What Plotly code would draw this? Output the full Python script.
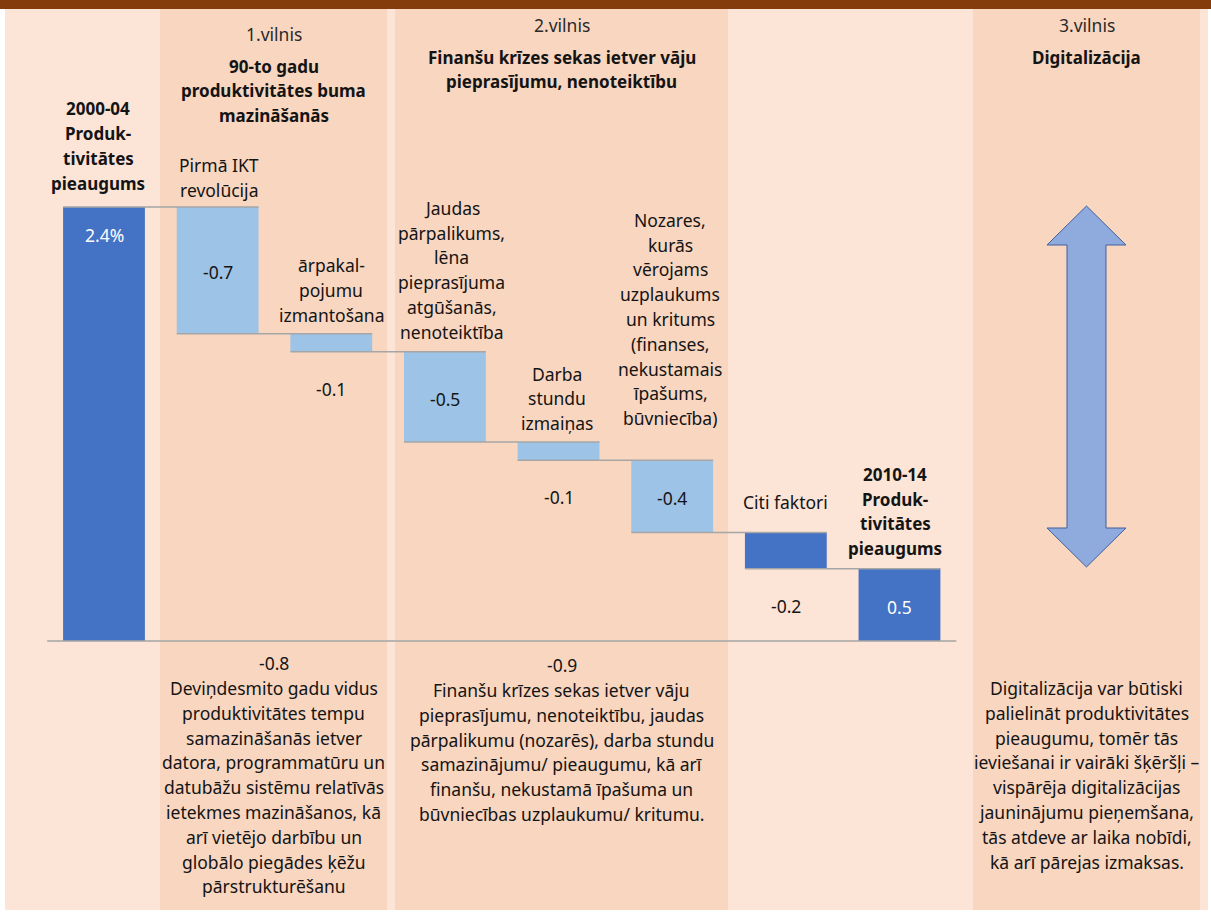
import plotly.graph_objects as go

W, H = 1211, 912
FONT = "Noto Sans"
TEXT = "#141414"
DARK = "#4472C4"
LIGHT = "#9DC3E6"
GRID = "#A6A6A6"
PEACH = "#FCE4D6"
BAND = "#F8D6C0"
BROWN = "#843C0C"

# --- data -------------------------------------------------------------------
categories = [
    "2000-04",
    "Pirmā IKT revolūcija",
    "ārpakalpojumu izmantošana",
    "Jaudas pārpalikums",
    "Darba stundu izmaiņas",
    "Nozares ar uzplaukumu un kritumu",
    "Citi faktori",
    "2010-14",
]
start_level = 2.4
changes = [-0.7, -0.1, -0.5, -0.1, -0.4, -0.2]
value_labels = ["2.4%", "-0.7", "-0.1", "-0.5", "-0.1", "-0.4", "-0.2", "0.5"]
bar_colors = [DARK, LIGHT, LIGHT, LIGHT, LIGHT, LIGHT, DARK, DARK]
label_place = ["top", "mid", "below", "mid", "below", "mid", "below", "mid"]

header_lines = [
    ["2000-04", "Produk-", "tivitātes", "pieaugums"],
    ["Pirmā IKT", "revolūcija"],
    ["ārpakal-", "pojumu", "izmantošana"],
    ["Jaudas", "pārpalikums,", "lēna", "pieprasījuma", "atgūšanās,", "nenoteiktība"],
    ["Darba", "stundu", "izmaiņas"],
    ["Nozares,", "kurās", "vērojams", "uzplaukums", "un kritums", "(finanses,",
     "nekustamais", "īpašums,", "būvniecība)"],
    ["Citi faktori"],
    ["2010-14", "Produk-", "tivitātes", "pieaugums"],
]
header_bold = [True, False, False, False, False, False, False, True]
header_gap = [24, 17, 19, 20, 19, 42, 31, 20]
header_dx = [-6, 1, 0, 7, -2, -2, 0, -4]

wave_titles = ["1.vilnis", "2.vilnis", "3.vilnis"]
wave_heads = [
    ["90-to gadu", "produktivitātes buma", "mazināšanās"],
    ["Finanšu krīzes sekas ietver vāju", "pieprasījumu, nenoteiktību"],
    ["Digitalizācija"],
]
wave_sums = ["-0.8", "-0.9", None]
wave_notes = [
    ["Deviņdesmito gadu vidus", "produktivitātes tempu", "samazināšanās ietver",
     "datora, programmatūru un", "datubāžu sistēmu relatīvās",
     "ietekmes mazināšanos, kā", "arī vietējo darbību un",
     "globālo piegādes ķēžu", "pārstrukturēšanu"],
    ["Finanšu krīzes sekas ietver vāju", "pieprasījumu, nenoteiktību, jaudas",
     "pārpalikumu (nozarēs), darba stundu", "samazinājumu/ pieaugumu, kā arī",
     "finanšu, nekustamā īpašuma un", "būvniecības uzplaukumu/ kritumu."],
    ["Digitalizācija var būtiski", "palielināt produktivitātes",
     "pieaugumu, tomēr tās", "ieviešanai ir vairāki šķēršļi –",
     "vispārēja digitalizācijas", "jauninājumu pieņemšana,",
     "tās atdeve ar laika nobīdi,", "kā arī pārejas izmaksas."],
]

# --- layout helpers ------------------------------------------------------------
BAND_PX = [(160, 387), (395, 728), (973, 1200)]
LINE = 24.8
BAR_W = 0.72
SIZE = 17.5
BOLD_SIZE = 17


def px(xp):
    return xp / W


def py(yp):
    return 1 - yp / H


def stack(fig, lines, x, y, xref, yref, first_shift, bold=False, color=TEXT, xshift=0):
    """Place lines one by one so the line spacing can be controlled."""
    for k, line in enumerate(lines):
        fig.add_annotation(
            x=x, y=y, xref=xref, yref=yref, text=f"<b>{line}</b>" if bold else line,
            showarrow=False, xanchor="center", yanchor="middle",
            yshift=first_shift - k * LINE, xshift=xshift,
            font=dict(family=FONT, size=BOLD_SIZE if bold else SIZE, color=color),
        )


# --- waterfall geometry ----------------------------------------------------------
levels = [start_level]
for c in changes:
    levels.append(levels[-1] + c)
bases = [0.0] + [levels[i + 1] for i in range(len(changes))] + [0.0]
heights = [start_level] + [-c for c in changes] + [levels[-1]]
xs = list(range(len(categories)))

fig = go.Figure()
fig.add_trace(
    go.Bar(
        x=xs, y=heights, base=bases, width=BAR_W,
        marker=dict(color=bar_colors, line=dict(width=0)),
        hoverinfo="skip",
    )
)

cx, cy = [], []
for i in range(len(categories) - 1):
    cx += [i - BAR_W / 2, i + 1 + BAR_W / 2, None]
    cy += [levels[min(i, len(levels) - 1)]] * 2 + [None]
fig.add_trace(
    go.Scatter(x=cx, y=cy, mode="lines", line=dict(color=GRID, width=1.5),
               hoverinfo="skip")
)

# value labels
for i, (lab, place) in enumerate(zip(value_labels, label_place)):
    top = bases[i] + heights[i]
    bottom = bases[i]
    if place == "top":
        y, shift = top, -28
    elif place == "below":
        y, shift = bottom, -37
    else:
        y, shift = (top + bottom) / 2, -2
    white = bar_colors[i] == DARK and place != "below"
    fig.add_annotation(
        x=i, y=y, text=lab, showarrow=False, yshift=shift,
        font=dict(family=FONT, size=SIZE, color="white" if white else TEXT),
    )

# category headers above each bar
for i, lines in enumerate(header_lines):
    top = bases[i] + heights[i]
    n = len(lines)
    stack(fig, lines, i, top, "x", "y", header_gap[i] + (n - 1) * LINE,
          bold=header_bold[i], xshift=header_dx[i])

# --- bands and wave texts -----------------------------------------------------
shapes = [
    dict(type="rect", xref="paper", yref="paper", x0=px(5), x1=px(1208), y0=py(910),
         y1=py(9), fillcolor=PEACH, line_width=0, layer="below"),
    dict(type="rect", xref="paper", yref="paper", x0=0, x1=1, y0=py(9), y1=1,
         fillcolor=BROWN, line_width=0, layer="below"),
    dict(type="line", xref="x", yref="y", x0=-0.5, x1=len(categories) - 0.5, y0=0, y1=0,
         line=dict(color=GRID, width=1.5), layer="above"),
]
for x0, x1 in BAND_PX:
    shapes.append(dict(type="rect", xref="paper", yref="paper", x0=px(x0), x1=px(x1),
                       y0=py(910), y1=py(9), fillcolor=BAND, line_width=0,
                       layer="below"))

title_y = [34, 25, 25]
head_y = [66, 57, 57]
note_y = [688, 690, 688]
for k, (x0, x1) in enumerate(BAND_PX):
    mid = px((x0 + x1) / 2)
    stack(fig, [wave_titles[k]], mid, py(title_y[k]), "paper", "paper", 0, color="#2a2a2a")
    stack(fig, wave_heads[k], mid, py(head_y[k]), "paper", "paper", 0, bold=True)
    if wave_sums[k]:
        stack(fig, [wave_sums[k]], mid, py(note_y[k] - 25), "paper", "paper", 0)
    stack(fig, wave_notes[k], mid, py(note_y[k]), "paper", "paper", 0)

# double arrow in the digitalisation band
ax, at, ab = 1086.5, 206, 567
hw, sw, hh = 39.5, 19.5, 39
pts = [
    (ax, at), (ax + hw, at + hh), (ax + sw, at + hh), (ax + sw, ab - hh),
    (ax + hw, ab - hh), (ax, ab), (ax - hw, ab - hh), (ax - sw, ab - hh),
    (ax - sw, at + hh), (ax - hw, at + hh),
]
path = "M " + " L ".join(f"{px(a):.5f},{py(b):.5f}" for a, b in pts) + " Z"
shapes.append(dict(type="path", xref="paper", yref="paper", path=path,
                   fillcolor="#8FAADC", line=dict(color="#41609E", width=1),
                   layer="above"))

# --- axes: zero at y=641 px, 180.8 px per unit; bar 0 centred at x=104 px -----
x_step, x0_px = 113.64, 104
y_unit, y0_px = 180.8, 641
fig.update_layout(
    width=W, height=H,
    margin=dict(l=0, r=0, t=0, b=0),
    paper_bgcolor="white",
    plot_bgcolor="rgba(0,0,0,0)",
    showlegend=False,
    shapes=shapes,
    xaxis=dict(visible=False, range=[-x0_px / x_step, (W - x0_px) / x_step],
               fixedrange=True),
    yaxis=dict(visible=False, range=[-(H - y0_px) / y_unit, y0_px / y_unit],
               fixedrange=True),
    hovermode=False,
)

fig.write_html(
    "out.html",
    config={"displayModeBar": False},
    post_script="document.body.style.margin='0';document.body.style.overflow='hidden';",
)
